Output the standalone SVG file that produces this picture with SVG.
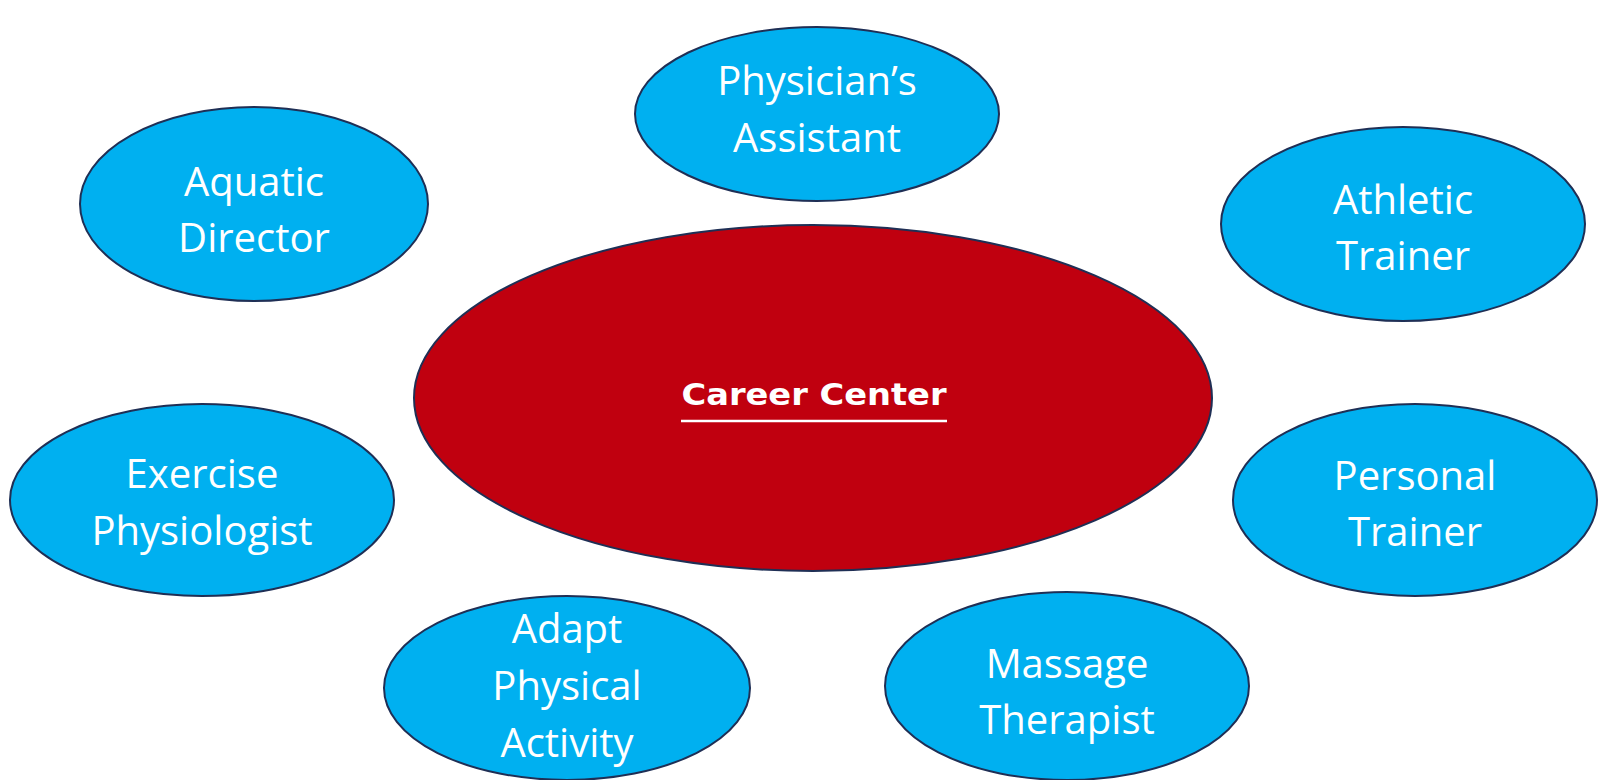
<svg xmlns="http://www.w3.org/2000/svg" width="1599" height="780" viewBox="0 0 1599 780">
<style>
.b{fill:#00B0F0;stroke:#1F2F55;stroke-width:2}
.c{fill:#C0000F;stroke:#1F2F55;stroke-width:2}
.t{font-family:"Open Sans","Liberation Sans",sans-serif;font-size:40px;fill:#fff;text-anchor:middle}
.ct{font-family:"DejaVu Sans","Liberation Sans",sans-serif;font-weight:bold;font-size:31px;fill:#fff;text-anchor:middle}
</style>
<rect width="1599" height="780" fill="#fff"/>
<g id="connectors"></g>
<g id="career-center">
<ellipse class="c" cx="813" cy="398" rx="399" ry="173"/>
<text class="ct" x="814" y="405" textLength="265" lengthAdjust="spacingAndGlyphs">Career Center</text>
<line x1="681" y1="421" x2="947" y2="421" stroke="#fff" stroke-width="2.5"/>
</g>
<g id="physicians-assistant">
<ellipse class="b" cx="817" cy="114" rx="182" ry="87"/>
<text class="t" x="817" y="95">Physician’s</text>
<text class="t" x="817" y="152">Assistant</text>
</g>
<g id="aquatic-director">
<ellipse class="b" cx="254" cy="204" rx="174" ry="97"/>
<text class="t" x="254" y="196">Aquatic</text>
<text class="t" x="254" y="252">Director</text>
</g>
<g id="athletic-trainer">
<ellipse class="b" cx="1403" cy="224" rx="182" ry="97"/>
<text class="t" x="1403" y="214">Athletic</text>
<text class="t" x="1403" y="270">Trainer</text>
</g>
<g id="exercise-physiologist">
<ellipse class="b" cx="202" cy="500" rx="192" ry="96"/>
<text class="t" x="202" y="488">Exercise</text>
<text class="t" x="202" y="545">Physiologist</text>
</g>
<g id="personal-trainer">
<ellipse class="b" cx="1415" cy="500" rx="182" ry="96"/>
<text class="t" x="1415" y="490">Personal</text>
<text class="t" x="1415" y="546">Trainer</text>
</g>
<g id="adapt-physical-activity">
<ellipse class="b" cx="567" cy="688" rx="183" ry="92"/>
<text class="t" x="567" y="643">Adapt</text>
<text class="t" x="567" y="700">Physical</text>
<text class="t" x="567" y="757">Activity</text>
</g>
<g id="massage-therapist">
<ellipse class="b" cx="1067" cy="686" rx="182" ry="94"/>
<text class="t" x="1067" y="678">Massage</text>
<text class="t" x="1067" y="734">Therapist</text>
</g>
</svg>
